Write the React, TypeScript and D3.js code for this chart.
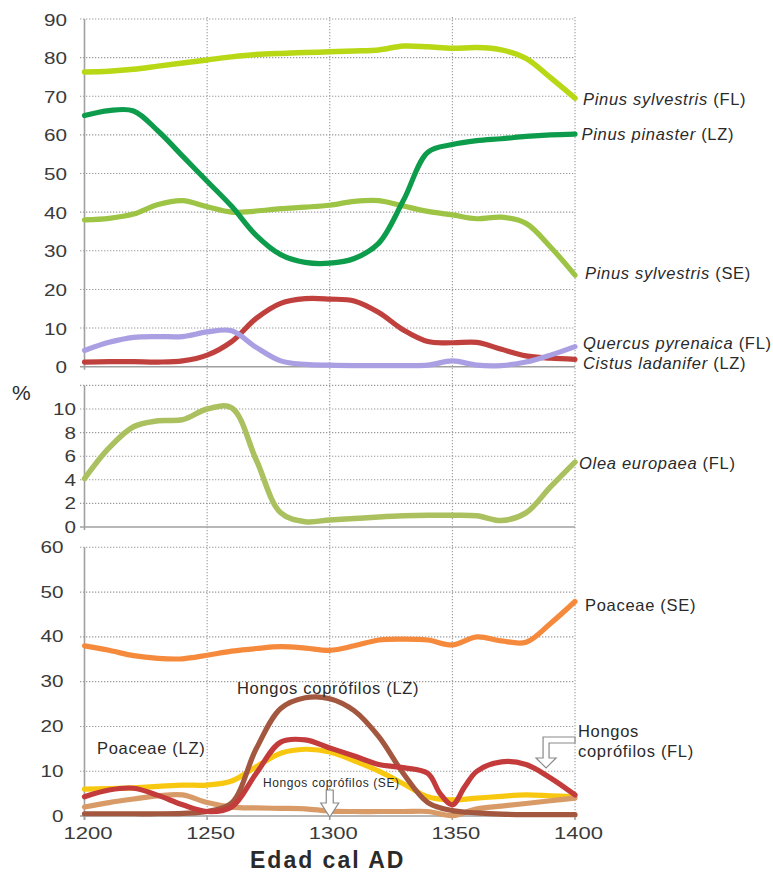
import React from "react";
import * as d3 from "d3";

const years = [1200,1210,1220,1230,1240,1250,1260,1270,1280,1290,1300,1310,1320,1330,1340,1350,1360,1370,1380,1390,1400];

// top panel
const pinusSylvestrisFL = [76.3,76.5,77,77.8,78.6,79.4,80.2,80.8,81.1,81.3,81.5,81.7,82,83,82.8,82.4,82.6,82,79.8,74.8,69.5];
const pinusPinasterLZ = [65,66.3,66.2,61,54.5,48,41.5,34,29,27,26.8,28,32,43,55.5,57.5,58.5,59,59.6,60,60.2];
const pinusSylvestrisSE = [38,38.4,39.5,42,43,41.4,40,40.3,40.9,41.3,41.8,42.8,43,41.6,40.2,39.3,38.3,38.7,37.1,31,23.7];
const quercusPyrenaicaFL = [4.2,6.3,7.6,7.8,7.8,9,9.3,5,1.5,0.6,0.4,0.3,0.3,0.3,0.4,1.5,0.4,0.3,1.2,3,5.2];
const cistusLadaniferLZ = [1.2,1.3,1.3,1.2,1.5,3,6.5,12.5,16.4,17.6,17.5,17,14,9.5,6.5,6.2,6.3,4.5,2.8,2.2,1.9];

// middle panel
const oleaEuropaeaFL = [4.1,6.7,8.5,9.0,9.1,10,10.1,5.7,1.2,0.45,0.6,0.72,0.85,0.95,1.0,1.0,0.95,0.55,1.2,3.4,5.5];

// bottom panel
const poaceaeSE = [38,37,35.8,35.2,35.1,35.9,36.8,37.4,37.8,37.5,37,38,39.3,39.5,39.3,38.2,40,39.1,38.8,43,47.9];
const poaceaeLZ = [6,6.1,6.3,6.6,6.9,6.9,7.8,11,14,14.9,14.3,12.3,10,7.2,4.3,3.6,4,4.4,4.7,4.5,4.3];
const hongosLZ = [0.5,0.5,0.5,0.5,0.6,1,2.9,15,24,26.4,26.2,23.5,17.7,9.5,3,1.2,0.7,0.4,0.3,0.3,0.3];
const hongosSE = [2,3,3.8,4.5,4.7,3,2,1.8,1.7,1.6,1.1,1.0,1.0,1.0,1.0,0.1,1.6,2.2,2.8,3.4,4.0];
const yearsHongosFL = [1200,1210,1220,1230,1240,1250,1260,1270,1280,1290,1300,1310,1320,1330,1340,1345,1350,1355,1360,1370,1380,1390,1400];
const hongosFL = [4.3,5.8,6.2,4.6,2.5,1,2,9.5,16.5,17,15.2,13.4,11.5,10.8,9.5,5,2.5,6.5,10,12.1,11.5,8.5,4.7];

const topTicks = [0,10,20,30,40,50,60,70,80,90];
const midTicks = [0,2,4,6,8,10];
const midGrid = [2,4,6,8,10,12];
const botTicks = [0,10,20,30,40,50,60];
const xTicks = [1200,1250,1300,1350,1400];

const FONT = "'Liberation Sans', Arial, Helvetica, sans-serif";

export default function App() {
  const x = d3.scaleLinear().domain([1200, 1400]).range([84.5, 575]);
  const yTop = d3.scaleLinear().domain([0, 90]).range([366.7, 19]);
  const yMid = d3.scaleLinear().domain([0, 12]).range([527, 385.4]);
  const yBot = d3.scaleLinear().domain([0, 60]).range([816, 547.3]);

  const mk = (ys: d3.ScaleLinear<number, number>, xs: number[], vs: number[]) =>
    d3.line<number>().x((_, i) => x(xs[i])).y((v) => ys(v)).curve(d3.curveCatmullRom.alpha(0.5))(vs) || "";

  const gridColor = "#9a9a9a";
  const axisColor = "#a0a0a0";
  const tickColor = "#3a3a3a";

  const hGrid = (ys: d3.ScaleLinear<number, number>, vals: number[], key: string) =>
    vals.filter((v) => v !== 0).map((v) => (
      <line key={key + v} x1={80} x2={x(1400)} y1={ys(v)} y2={ys(v)} stroke={gridColor} strokeWidth={1.1} strokeDasharray="1.3 1.7" />
    ));

  const yLabels = (ys: d3.ScaleLinear<number, number>, vals: number[], xr: number, dy: number, key: string) =>
    vals.map((v) => {
      const s = String(v);
      return (
        <text key={key + v} x={xr - s.length * 11.5} y={ys(v) + dy} fontSize={16} fill={tickColor}
          textLength={s.length * 11.5} lengthAdjust="spacingAndGlyphs" fontFamily={FONT}>{s}</text>
      );
    });

  const lineW = 5.2;
  const series = (d: string, color: string, key: string, w = lineW) => (
    <path key={key} d={d} fill="none" stroke={color} strokeWidth={w} strokeLinecap="round" strokeLinejoin="round" />
  );

  const labelStyle = { fontFamily: FONT, fontSize: 16.5, letterSpacing: 0.7, fill: "#2a2a2a" } as const;

  // arrows
  const ax = x(1300);
  const ay = yBot(0);
  const downArrow = [
    [ax - 3.5, 790], [ax + 3.5, 790], [ax + 3.5, 803], [ax + 9, 803], [ax, ay + 1], [ax - 9, 803], [ax - 3.5, 803],
  ];
  const bx = x(1388.2);
  const bentArrow = [
    [x(1400), 737], [bx - 3, 737], [bx - 3, 758], [bx - 10, 758], [bx, 768], [bx + 10, 758], [bx + 3, 758], [bx + 3, 743], [x(1400), 743],
  ];
  const poly = (pts: number[][]) => pts.map((p) => p.join(",")).join(" ");

  return (
    <svg width={773} height={872} style={{ position: "absolute", left: 0, top: 0, background: "#fff" }} fontFamily={FONT}>
      <rect width={773} height={872} fill="#fff" />
      {/* vertical grid lines */}
      {xTicks.slice(1).map((t) => (
        <line key={"vg" + t} x1={x(t)} x2={x(t)} y1={17} y2={820} stroke={gridColor} strokeWidth={1.1} strokeDasharray="1.3 1.7" />
      ))}
      {hGrid(yTop, topTicks, "ht")}
      {hGrid(yMid, midGrid, "hm")}
      {hGrid(yBot, botTicks, "hb")}

      {/* axes */}
      <line x1={x(1200)} x2={x(1200)} y1={yTop(90)} y2={yTop(0) + 3} stroke={axisColor} strokeWidth={1.6} />
      <line x1={80} x2={x(1400)} y1={yTop(0)} y2={yTop(0)} stroke={axisColor} strokeWidth={1.6} />
      <line x1={x(1200)} x2={x(1200)} y1={yMid(12)} y2={yMid(0) + 3} stroke={axisColor} strokeWidth={1.6} />
      <line x1={80} x2={x(1400)} y1={yMid(0)} y2={yMid(0)} stroke={axisColor} strokeWidth={1.6} />
      <line x1={x(1200)} x2={x(1200)} y1={yBot(60)} y2={yBot(0) + 4} stroke={axisColor} strokeWidth={1.6} />
      <line x1={80} x2={x(1400)} y1={yBot(0)} y2={yBot(0)} stroke={axisColor} strokeWidth={1.6} />
      {xTicks.map((t) => (
        <line key={"xt" + t} x1={x(t)} x2={x(t)} y1={yBot(0)} y2={yBot(0) + 4} stroke={axisColor} strokeWidth={1.4} />
      ))}

      {/* tick labels */}
      {yLabels(yTop, topTicks, 67, 6.5, "lt")}
      {yLabels(yMid, midTicks, 76, 6, "lm")}
      {yLabels(yBot, botTicks, 63.5, 5.5, "lb")}
      {xTicks.map((t) => (
        <text key={"xl" + t} x={x(t) + 3.5 - 24.5} y={839} fontSize={17} fill={tickColor}
          textLength={49} lengthAdjust="spacingAndGlyphs">{t}</text>
      ))}

      {/* top panel lines */}
      {series(mk(yTop, years, pinusSylvestrisFL), "#b8d714", "psfl", 5.5)}
      {series(mk(yTop, years, pinusSylvestrisSE), "#9dc445", "psse")}
      {series(mk(yTop, years, pinusPinasterLZ), "#0c9c4b", "pplz")}
      {series(mk(yTop, years, cistusLadaniferLZ), "#c0403d", "cl")}
      {series(mk(yTop, years, quercusPyrenaicaFL), "#aa9fe2", "qp")}

      {/* middle panel */}
      {series(mk(yMid, years, oleaEuropaeaFL), "#abc05f", "oe", 5.5)}

      {/* bottom panel */}
      {series(mk(yBot, years, poaceaeSE), "#f58a3d", "pse")}
      {series(mk(yBot, years, poaceaeLZ), "#f8c811", "plz")}
      {series(mk(yBot, years, hongosSE), "#d89b68", "hse")}
      {series(mk(yBot, years, hongosLZ), "#a4573f", "hlz")}
      {series(mk(yBot, yearsHongosFL, hongosFL), "#c43b3c", "hfl")}

      {/* arrows */}
      <polygon points={poly(downArrow)} fill="#fff" stroke="#8a8a8a" strokeWidth={1.2} />
      <polygon points={poly(bentArrow)} fill="#fff" stroke="#8a8a8a" strokeWidth={1.2} />

      {/* series labels */}
      <text x={583} y={105} {...labelStyle}><tspan fontStyle="italic">Pinus sylvestris</tspan> (FL)</text>
      <text x={581.5} y={140} {...labelStyle}><tspan fontStyle="italic">Pinus pinaster</tspan> (LZ)</text>
      <text x={585} y={278.5} {...labelStyle}><tspan fontStyle="italic">Pinus sylvestris</tspan> (SE)</text>
      <text x={583} y={348.5} {...labelStyle}><tspan fontStyle="italic">Quercus pyrenaica</tspan> (FL)</text>
      <text x={583} y={368.5} {...labelStyle}><tspan fontStyle="italic">Cistus ladanifer</tspan> (LZ)</text>
      <text x={579} y={468.5} {...labelStyle}><tspan fontStyle="italic">Olea europaea</tspan> (FL)</text>
      <text x={585} y={611} {...labelStyle}>Poaceae (SE)</text>
      <text x={578} y={737} {...labelStyle}>Hongos</text>
      <text x={578} y={757} {...labelStyle}>coprófilos (FL)</text>
      <text x={237} y={693.5} {...labelStyle}>Hongos coprófilos (LZ)</text>
      <text x={97} y={753.5} {...labelStyle}>Poaceae (LZ)</text>
      <text x={263} y={787} fontFamily={FONT} fontSize={12} letterSpacing={0.6} fill="#2a2a2a">Hongos coprófilos (SE)</text>

      {/* axis titles */}
      <text x={12} y={400} fontSize={21} fill="#2a2a2a">%</text>
      <text x={250} y={868} fontSize={23} fontWeight="bold" letterSpacing={2} fill="#2a2a2a">Edad cal AD</text>
    </svg>
  );
}
